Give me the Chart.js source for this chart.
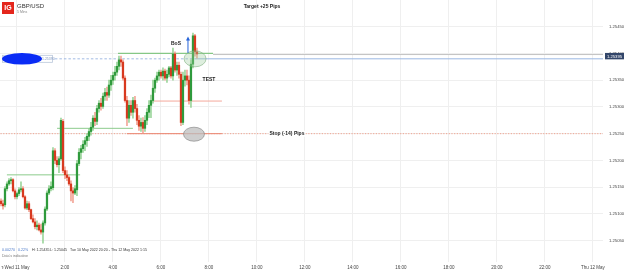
<!DOCTYPE html>
<html>
<head>
<meta charset="utf-8">
<script src="https://cdn.jsdelivr.net/npm/chart.js@4/dist/chart.umd.min.js"></script>
<style>
html,body{margin:0;padding:0;background:#fff;overflow:hidden}
#wrap{width:625px;height:272px;position:relative}
</style>
</head>
<body>
<div id="wrap"><canvas id="c"></canvas></div>
<script>
// 5 minute candles, GBP/USD
const times = ['23:20','23:25','23:30','23:35','23:40','23:45','23:50','23:55',
  '0:00','0:05','0:10','0:15','0:20','0:25','0:30','0:35','0:40','0:45','0:50','0:55',
  '1:00','1:05','1:10','1:15','1:20','1:25','1:30','1:35','1:40','1:45','1:50','1:55',
  '2:00','2:05','2:10','2:15','2:20','2:25','2:30','2:35','2:40','2:45','2:50','2:55',
  '3:00','3:05','3:10','3:15','3:20','3:25','3:30','3:35','3:40','3:45','3:50','3:55',
  '4:00','4:05','4:10','4:15','4:20','4:25','4:30','4:35','4:40','4:45','4:50','4:55',
  '5:00','5:05','5:10','5:15','5:20','5:25','5:30','5:35','5:40','5:45','5:50','5:55',
  '6:00','6:05','6:10','6:15','6:20','6:25','6:30','6:35','6:40','6:45','6:50','6:55',
  '7:00','7:05','7:10','7:15','7:20','7:25','7:30'];

const opens = [1.25124,1.25119,1.25117,1.25147,1.25156,1.25162,1.25164,1.25143,1.25132,1.25138,
  1.25145,1.25147,1.25132,1.25111,1.25119,1.25108,1.25091,1.25085,1.25076,1.25079,
  1.25070,1.25066,1.25083,1.25109,1.25139,1.25147,1.25149,1.25218,1.25200,1.25192,
  1.25203,1.25273,1.25181,1.25173,1.25168,1.25156,1.25143,1.25139,1.25145,1.25194,
  1.25215,1.25222,1.25230,1.25237,1.25245,1.25254,1.25262,1.25279,1.25273,1.25297,
  1.25307,1.25301,1.25320,1.25327,1.25322,1.25341,1.25350,1.25359,1.25365,1.25376,
  1.25388,1.25384,1.25354,1.25312,1.25279,1.25303,1.25290,1.25312,1.25297,1.25275,
  1.25264,1.25271,1.25260,1.25275,1.25290,1.25303,1.25312,1.25335,1.25350,1.25358,
  1.25365,1.25358,1.25367,1.25354,1.25361,1.25373,1.25358,1.25399,1.25369,1.25378,
  1.25361,1.25271,1.25350,1.25358,1.25350,1.25312,1.25380,1.25433,1.25403];

const highs = [1.25128,1.25126,1.25151,1.25160,1.25166,1.25168,1.25166,1.25147,1.25141,1.25149,
  1.25160,1.25151,1.25134,1.25124,1.25123,1.25109,1.25098,1.25091,1.25087,1.25083,
  1.25081,1.25087,1.25113,1.25143,1.25153,1.25160,1.25224,1.25222,1.25207,1.25207,
  1.25279,1.25277,1.25188,1.25181,1.25171,1.25162,1.25149,1.25153,1.25200,1.25222,
  1.25228,1.25237,1.25243,1.25250,1.25260,1.25271,1.25284,1.25290,1.25303,1.25312,
  1.25316,1.25326,1.25335,1.25337,1.25350,1.25359,1.25365,1.25376,1.25384,1.25395,
  1.25395,1.25388,1.25358,1.25320,1.25312,1.25312,1.25318,1.25320,1.25305,1.25284,
  1.25279,1.25280,1.25284,1.25297,1.25312,1.25322,1.25350,1.25354,1.25365,1.25369,
  1.25369,1.25373,1.25371,1.25369,1.25376,1.25376,1.25410,1.25403,1.25384,1.25384,
  1.25365,1.25365,1.25369,1.25369,1.25358,1.25388,1.25438,1.25436,1.25410];

const lows = [1.25115,1.25109,1.25113,1.25143,1.25153,1.25156,1.25141,1.25128,1.25128,1.25134,
  1.25141,1.25130,1.25109,1.25108,1.25104,1.25089,1.25083,1.25072,1.25070,1.25068,
  1.25062,1.25045,1.25079,1.25106,1.25136,1.25143,1.25145,1.25194,1.25188,1.25177,
  1.25200,1.25177,1.25166,1.25162,1.25153,1.25124,1.25121,1.25136,1.25134,1.25190,
  1.25203,1.25215,1.25218,1.25226,1.25237,1.25247,1.25256,1.25265,1.25267,1.25290,
  1.25294,1.25297,1.25312,1.25312,1.25318,1.25331,1.25342,1.25350,1.25359,1.25369,
  1.25376,1.25350,1.25309,1.25265,1.25271,1.25284,1.25279,1.25290,1.25267,1.25256,
  1.25254,1.25252,1.25254,1.25267,1.25280,1.25280,1.25307,1.25327,1.25346,1.25350,
  1.25354,1.25350,1.25350,1.25346,1.25356,1.25354,1.25350,1.25365,1.25359,1.25354,
  1.25265,1.25267,1.25339,1.25341,1.25305,1.25299,1.25373,1.25395,1.25391];

const closes = [1.25119,1.25115,1.25147,1.25156,1.25162,1.25164,1.25143,1.25132,1.25138,1.25145,
  1.25147,1.25132,1.25111,1.25119,1.25108,1.25091,1.25085,1.25076,1.25079,1.25070,
  1.25066,1.25083,1.25109,1.25139,1.25147,1.25151,1.25218,1.25200,1.25192,1.25203,
  1.25275,1.25181,1.25173,1.25168,1.25156,1.25143,1.25139,1.25147,1.25194,1.25215,
  1.25222,1.25230,1.25237,1.25245,1.25254,1.25262,1.25279,1.25273,1.25297,1.25307,
  1.25301,1.25320,1.25327,1.25322,1.25341,1.25350,1.25359,1.25365,1.25376,1.25388,
  1.25384,1.25354,1.25312,1.25279,1.25303,1.25290,1.25312,1.25297,1.25275,1.25264,
  1.25271,1.25260,1.25275,1.25290,1.25303,1.25312,1.25335,1.25350,1.25358,1.25365,
  1.25358,1.25367,1.25354,1.25361,1.25373,1.25358,1.25399,1.25369,1.25378,1.25361,
  1.25271,1.25350,1.25358,1.25350,1.25312,1.25380,1.25433,1.25403,1.25399];

const yTicks = [1.2505,1.2510,1.2515,1.2520,1.2525,1.2530,1.2535,1.2540,1.2545];
const xTickHours = [0,2,4,6,8,10,12,14,16,18,20,22,24];
const xTickLabels = ['Wed 11 May','2:00','4:00','6:00','8:00','10:00','12:00','14:00','16:00','18:00','20:00','22:00','Thu 12 May'];

// drawn levels: [hour, price] pairs
const lvlGreenLow = [[-0.42,1.25173],[2.63,1.25173]];
const lvlGreenMid = [[1.67,1.25260],[4.83,1.25260]];
const lvlGreenTop = [[4.21,1.25400],[8.17,1.25400]];
const lvlGreyTop = [[8.17,1.25398],[24.5,1.25398]];
const lvlBlueDash = [[1.58,1.25390],[7.42,1.25390]];
const lvlBlue = [[7.42,1.25390],[24.5,1.25390]];
const lvlRedMid = [[5.54,1.25311],[8.54,1.25311]];
const lvlStop = [[4.58,1.25250],[8.54,1.25250]];
const lvlStopDotted = [[-0.8,1.25250],[24.5,1.25250]];

const lastPrice = '1.25395';

function toHour(s){
  const p = s.split(':');
  let h = +p[0] + (+p[1])/60;
  if(h >= 12) h -= 24;
  return h;
}
const hours = times.map(toHour);
const up = closes.map((c,i)=> c >= opens[i]);

const FONT = 'Liberation Sans, Arial, sans-serif';

function lineSet(pts, color, width, dash){
  return {
    type:'line', data: pts.map(p=>({x:p[0], y:p[1]})),
    borderColor: color, borderWidth: width, borderDash: dash || [],
    pointRadius: 0, fill: false, order: 3, tension: 0
  };
}

function ellipse(ctx, cx, cy, rx, ry, fill, stroke){
  ctx.beginPath();
  ctx.ellipse(cx, cy, rx, ry, 0, 0, Math.PI*2);
  if(fill){ ctx.fillStyle = fill; ctx.fill(); }
  if(stroke){ ctx.strokeStyle = stroke; ctx.lineWidth = 0.8; ctx.stroke(); }
}

const overlay = {
  id: 'overlay',
  afterDatasetsDraw(chart){
    const ctx = chart.ctx;
    const x = chart.scales.x, y = chart.scales.y;
    ctx.save();
    // circles
    ellipse(ctx, x.getPixelForValue(7.42), y.getPixelForValue(1.25390), 11, 8, 'rgba(160,205,160,0.35)', 'rgba(120,170,120,0.7)');
    ellipse(ctx, x.getPixelForValue(7.375), y.getPixelForValue(1.25249), 10.5, 7, 'rgba(190,190,190,0.75)', 'rgba(130,130,130,0.8)');
    // arrow
    const ax = x.getPixelForValue(7.125);
    const ay0 = y.getPixelForValue(1.25401), ay1 = y.getPixelForValue(1.25430);
    ctx.strokeStyle = '#2563d8'; ctx.lineWidth = 1;
    ctx.beginPath(); ctx.moveTo(ax, ay0); ctx.lineTo(ax, ay1+2); ctx.stroke();
    ctx.fillStyle = '#2563d8';
    ctx.beginPath(); ctx.moveTo(ax, ay1-1); ctx.lineTo(ax-2, ay1+3); ctx.lineTo(ax+2, ay1+3); ctx.closePath(); ctx.fill();
    // texts
    ctx.fillStyle = '#222';
    ctx.textAlign = 'center'; ctx.textBaseline = 'middle';
    ctx.font = 'bold 5px ' + FONT;
    ctx.fillText('BoS', x.getPixelForValue(6.625), y.getPixelForValue(1.25418));
    ctx.fillText('TEST', x.getPixelForValue(8.0), y.getPixelForValue(1.25352));
    ctx.fillText('Target +25 Pips', x.getPixelForValue(10.21), y.getPixelForValue(1.25487));
    const sx = x.getPixelForValue(11.25), sy = y.getPixelForValue(1.25250);
    const sw = ctx.measureText('Stop (-14) Pips').width;
    ctx.fillStyle = '#fff'; ctx.fillRect(sx - sw/2 - 1, sy - 3, sw + 2, 6);
    ctx.fillStyle = '#222';
    ctx.fillText('Stop (-14) Pips', sx, sy);
    // left label box for the blue level, covered
    const by = y.getPixelForValue(1.25390);
    ctx.fillStyle = '#fff'; ctx.strokeStyle = '#b9c6da'; ctx.lineWidth = 0.8;
    ctx.fillRect(2, by-4, 51, 8); ctx.strokeRect(2.5, by-3.5, 50, 7);
    ctx.fillStyle = '#7f97c0'; ctx.font = '3.5px ' + FONT; ctx.textAlign = 'left';
    ctx.fillText('1.25390', 42, by);
    ellipse(ctx, 22, by, 20, 5.8, '#0a2cf5', null);
    ctx.restore();
  },
  afterDraw(chart){
    const ctx = chart.ctx;
    const y = chart.scales.y;
    ctx.save();
    // header
    ctx.fillStyle = '#e4261c'; ctx.fillRect(2, 2, 12, 12);
    ctx.fillStyle = '#fff'; ctx.font = 'bold 7px ' + FONT;
    ctx.textAlign = 'center'; ctx.textBaseline = 'middle';
    ctx.fillText('IG', 8, 8.5);
    ctx.textAlign = 'left';
    ctx.fillStyle = '#333'; ctx.font = '6px ' + FONT;
    ctx.fillText('GBP/USD', 17, 6);
    ctx.fillStyle = '#888'; ctx.font = '3.5px ' + FONT;
    ctx.fillText('5 Mins', 17, 12);
    // info footer
    ctx.font = '3.6px ' + FONT;
    ctx.fillStyle = '#4a78c8';
    ctx.fillText('0.00270', 2, 250);
    ctx.fillText('0.22%', 18, 250);
    ctx.fillStyle = '#333';
    ctx.fillText('H: 1.25435', 32, 250);
    ctx.fillText('L: 1.25045', 50, 250);
    ctx.fillText('Tue 10 May 2022 20:20 - Thu 12 May 2022 1:15', 70, 250);
    ctx.fillStyle = '#777';
    ctx.fillText('Data\'s indicative', 2, 256);
    ctx.fillStyle = '#333'; ctx.font = '4px ' + FONT;
    ctx.fillText('T:', 1, 268);
    // last price box
    const py = y.getPixelForValue(+lastPrice);
    ctx.fillStyle = '#33466a'; ctx.fillRect(605, py-3.2, 19, 6.4);
    ctx.fillStyle = '#fff'; ctx.font = '4.2px ' + FONT; ctx.textAlign = 'center';
    ctx.fillText(lastPrice, 614.5, py+0.3);
    ctx.restore();
  }
};

new Chart(document.getElementById('c'), {
  data: {
    datasets: [
      lineSet(lvlStopDotted, '#f08d74', 0.8, [1.2,1.5]),
      lineSet(lvlGreenLow, '#8ccb8c', 1),
      lineSet(lvlGreenMid, '#8ccb8c', 1),
      lineSet(lvlGreenTop, '#86c886', 1.2),
      lineSet(lvlGreyTop, '#c4c4c4', 1),
      lineSet(lvlBlueDash, '#8aa8dc', 0.8, [2.5,2]),
      lineSet(lvlBlue, '#9ab6e2', 1),
      lineSet(lvlRedMid, '#f4a89c', 1),
      lineSet(lvlStop, '#e9826e', 1),
      {
        type: 'bar', order: 2, grouped: false,
        data: hours.map((h,i)=>({x:h, y:[lows[i], highs[i]]})),
        backgroundColor: up.map(u=> u ? '#8fd08f' : '#f19a8a'),
        barThickness: 0.8, borderWidth: 0
      },
      {
        type: 'bar', order: 1, grouped: false,
        data: hours.map((h,i)=>({x:h, y:[opens[i], closes[i]]})),
        backgroundColor: up.map(u=> u ? '#2f9a3c' : '#d8391f'),
        barThickness: 1.6, borderWidth: 0
      }
    ]
  },
  options: {
    responsive: true,
    maintainAspectRatio: false,
    animation: false,
    devicePixelRatio: 1,
    layout: { padding: 0, autoPadding: false },
    plugins: { legend: { display: false }, tooltip: { enabled: false } },
    scales: {
      x: {
        type: 'linear', min: -0.708, max: 24.42, offset: false,
        afterBuildTicks: s => { s.ticks = xTickHours.map(v=>({value:v})); },
        afterFit: s => { s.height = 10; s.paddingLeft = 0; s.paddingRight = 0; },
        grid: { color: '#efefef', lineWidth: 1, drawTicks: false, offset: false },
        border: { display: false },
        ticks: {
          autoSkip: false, maxRotation: 0, padding: 3,
          color: '#444', font: { size: 4.5, family: FONT },
          callback: v => xTickLabels[xTickHours.indexOf(v)]
        }
      },
      y: {
        type: 'linear', position: 'right', min: 1.2501, max: 1.2550,
        afterBuildTicks: s => { s.ticks = yTicks.map(v=>({value:v})); },
        afterFit: s => { s.width = 22; s.paddingTop = 0; s.paddingBottom = 0; },
        grid: { color: '#efefef', lineWidth: 1, drawTicks: false },
        border: { display: false },
        ticks: {
          padding: 6, color: '#444', font: { size: 4.2, family: FONT },
          callback: v => v.toFixed(5)
        }
      }
    }
  },
  plugins: [overlay]
});
</script>
</body>
</html>
